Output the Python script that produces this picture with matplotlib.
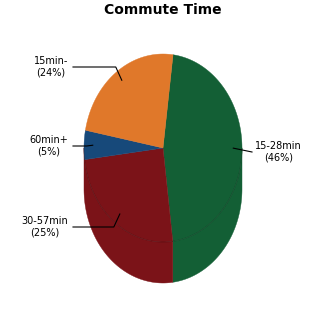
import numpy as np
import matplotlib
matplotlib.use('Agg')
import matplotlib.pyplot as plt
from matplotlib.patches import Polygon

# ---- data ----
categories = ['15-28min', '30-57min', '60min+', '15min-']
shares = [46, 25, 5, 24]
colors = ['#135f35', '#7b1318', '#17497a', '#e0782a']
title = 'Commute Time'

# ---- layout (pixel space) ----
CX, CY, RX, RY, DEPTH = 163, 148, 79, 94, 41
START = 7.3            # degrees clockwise from 12 o'clock
ANCHOR_R = 0.89
MIN_SIDE_DEG = 10      # side slivers narrower than this are not drawn
label_line_y = [152, 227, 146, 67]
LEFT_X, RIGHT_X = 73, 252

fig = plt.figure(figsize=(3.25, 3.25), dpi=100)
ax = fig.add_axes([0, 0, 1, 1])
ax.set_xlim(0, 325)
ax.set_ylim(325, 0)
ax.axis('off')


def pt(theta, r=1.0, dz=0.0):
    t = np.radians(theta)
    return CX + r * RX * np.sin(t), CY - r * RY * np.cos(t) + dz


def arc(a, b, r=1.0, dz=0.0, n=None):
    n = n or max(4, int(abs(b - a) * 2))
    ts = np.linspace(a, b, n)
    xs, ys = pt(ts, r, dz)
    return list(zip(xs, ys))


total = float(sum(shares))
bounds = START + np.cumsum([0] + shares) / total * 360.0

# sides (front half: 90..270 deg); a neighbouring wide slice fills thin slivers
side_ranges = []
for i, c in enumerate(colors):
    a, b = bounds[i], bounds[i + 1]
    for off in (0, 360):
        lo, hi = max(a, 90 + off), min(b, 270 + off)
        if hi > lo:
            side_ranges.append([lo, hi, c])
for j, (lo, hi, c) in enumerate(side_ranges):
    if hi - lo < MIN_SIDE_DEG and j > 0:
        side_ranges[j - 1][1] = hi
        side_ranges[j][1] = lo
for lo, hi, c in side_ranges:
    if hi > lo:
        top = arc(lo, hi)
        bot = arc(lo, hi, dz=DEPTH)[::-1]
        ax.add_patch(Polygon(top + bot, closed=True, facecolor=c,
                             edgecolor=c, linewidth=0.3, zorder=1))

# top faces
for i, c in enumerate(colors):
    a, b = bounds[i], bounds[i + 1]
    poly = [(CX, CY)] + arc(a, b)
    ax.add_patch(Polygon(poly, closed=True, facecolor=c, edgecolor=c,
                         linewidth=0.3, zorder=2))

# faint front rim of the top face
rim = np.array(arc(90, 270))
ax.plot(rim[:, 0], rim[:, 1], color='black', alpha=0.2, lw=0.7, zorder=3)

# labels with leader lines
for i, name in enumerate(categories):
    mid = (bounds[i] + bounds[i + 1]) / 2
    axp, ayp = pt(mid, ANCHOR_R)
    ly = label_line_y[i]
    txt = f'{name}\n({shares[i]}%)'
    if axp < CX:
        xs = [LEFT_X, axp - 6, axp]
        ys = [ly, ly, ayp]
        ax.text(LEFT_X - 5, ly, txt, ha='right', va='center',
                multialignment='center', fontsize=7, zorder=5)
    else:
        xs = [RIGHT_X, axp]
        ys = [ly, ayp]
        ax.text(RIGHT_X + 3, ly, txt, ha='left', va='center',
                multialignment='center', fontsize=7, zorder=5)
    ax.plot(xs, ys, color='black', lw=0.8, zorder=4)

fig.text(0.5, 1 - 10 / 325, title, ha='center', va='center',
         fontsize=10, fontweight='bold')

fig.savefig('out.png', dpi=100)
